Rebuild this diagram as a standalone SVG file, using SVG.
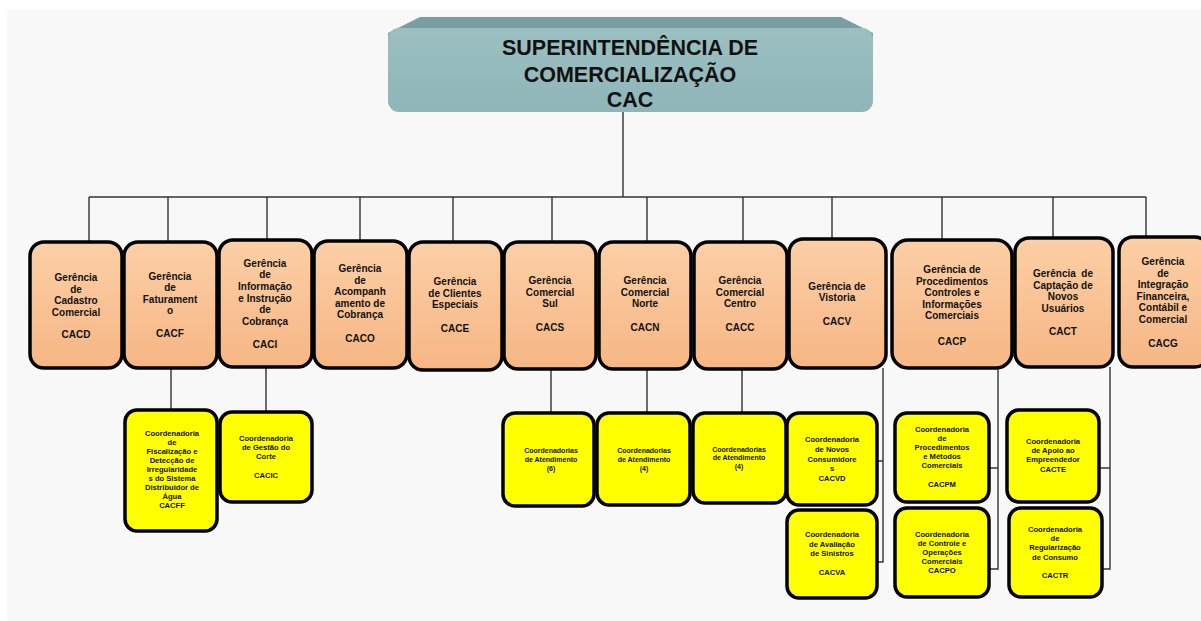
<svg xmlns="http://www.w3.org/2000/svg" width="1201" height="621" viewBox="0 0 1201 621">
<defs>
<linearGradient id="og" x1="0" y1="0" x2="0" y2="1"><stop offset="0" stop-color="#fccfa6"/><stop offset="1" stop-color="#f6b684"/></linearGradient>
<linearGradient id="tg" x1="0" y1="0" x2="0" y2="1"><stop offset="0" stop-color="#9cc0c2"/><stop offset="1" stop-color="#8fb5b8"/></linearGradient>
</defs>
<style>
.g{fill:url(#og);stroke:#000;stroke-width:3.5}
.y{fill:#ffff00;stroke:#000;stroke-width:3.5}
.c{fill:none;stroke:#333;stroke-width:1.4}
text{font-family:"Liberation Sans",Arial,sans-serif;font-weight:bold;text-anchor:middle;fill:#111}
.gt{font-size:10px}
.yt{font-size:7.6px}
.ht{font-size:21.5px}
</style>
<rect x="0" y="0" width="1201" height="621" fill="#ffffff"/>
<rect x="7" y="9" width="1194" height="612" fill="#f8f8f8"/>

<g id="connectors">
<path class="c" d="M623 112V197M89 197H1146M89 197V242M168 197V242M267 197V240M360 197V242M453 197V242M552 197V242M647 197V242M743 197V242M832 197V239M942 197V240M1053 197V238M1146 197V237"/>
<path class="c" d="M171 368V410M266 367V412M551 368V413M647 368V413M742 368V413"/>
<path class="c" d="M883 368V562H877M883 461H877"/>
<path class="c" d="M998 368V569H989M998 468H989"/>
<path class="c" d="M1110 367V569H1102M1110 468H1099"/>
</g>

<g id="CAC">
<path d="M420 17H841L873 33V60H388V33Z" fill="#7a9ea1"/>
<rect x="388" y="28" width="485" height="84" rx="11" fill="url(#tg)"/>
<text class="ht" x="630" y="55">SUPERINTENDÊNCIA DE</text>
<text class="ht" x="630" y="82">COMERCIALIZAÇÃO</text>
<text class="ht" x="630" y="107">CAC</text>
</g>

<g id="CACD"><rect class="g" x="30" y="242" width="92" height="126" rx="14"/>
<text class="gt" x="76" y="281">Gerência</text><text class="gt" x="76" y="293">de</text><text class="gt" x="76" y="304">Cadastro</text><text class="gt" x="76" y="316">Comercial</text><text class="gt" x="76" y="338">CACD</text></g>

<g id="CACF"><rect class="g" x="124" y="242" width="93" height="126" rx="14"/>
<text class="gt" x="170" y="280">Gerência</text><text class="gt" x="170" y="291">de</text><text class="gt" x="170" y="303">Faturament</text><text class="gt" x="170" y="314">o</text><text class="gt" x="170" y="337">CACF</text></g>

<g id="CACI"><rect class="g" x="219" y="240" width="93" height="127" rx="14"/>
<text class="gt" x="265" y="267">Gerência</text><text class="gt" x="265" y="278">de</text><text class="gt" x="265" y="290">Informação</text><text class="gt" x="265" y="302">e Instrução</text><text class="gt" x="265" y="313">de</text><text class="gt" x="265" y="325">Cobrança</text><text class="gt" x="265" y="348">CACI</text></g>

<g id="CACO"><rect class="g" x="314" y="241" width="93" height="127" rx="14"/>
<text class="gt" x="360" y="272">Gerência</text><text class="gt" x="360" y="284">de</text><text class="gt" x="360" y="295">Acompanh</text><text class="gt" x="360" y="307">amento de</text><text class="gt" x="360" y="318">Cobrança</text><text class="gt" x="360" y="342">CACO</text></g>

<g id="CACE"><rect class="g" x="409" y="242" width="93" height="128" rx="14"/>
<text class="gt" x="455" y="285">Gerência</text><text class="gt" x="455" y="297">de Clientes</text><text class="gt" x="455" y="308">Especiais</text><text class="gt" x="455" y="332">CACE</text></g>

<g id="CACS"><rect class="g" x="504" y="242" width="92" height="127" rx="14"/>
<text class="gt" x="550" y="284">Gerência</text><text class="gt" x="550" y="296">Comercial</text><text class="gt" x="550" y="307">Sul</text><text class="gt" x="550" y="331">CACS</text></g>

<g id="CACN"><rect class="g" x="599" y="242" width="92" height="127" rx="14"/>
<text class="gt" x="645" y="284">Gerência</text><text class="gt" x="645" y="296">Comercial</text><text class="gt" x="645" y="307">Norte</text><text class="gt" x="645" y="331">CACN</text></g>

<g id="CACC"><rect class="g" x="694" y="242" width="93" height="127" rx="14"/>
<text class="gt" x="740" y="284">Gerência</text><text class="gt" x="740" y="296">Comercial</text><text class="gt" x="740" y="307">Centro</text><text class="gt" x="740" y="331">CACC</text></g>

<g id="CACV"><rect class="g" x="789" y="239" width="97" height="129" rx="14"/>
<text class="gt" x="837" y="290">Gerência de</text><text class="gt" x="837" y="301">Vistoria</text><text class="gt" x="837" y="325">CACV</text></g>

<g id="CACP"><rect class="g" x="892" y="240" width="120" height="128" rx="16"/>
<text class="gt" x="952" y="273">Gerência de</text><text class="gt" x="952" y="285">Procedimentos</text><text class="gt" x="952" y="296">Controles e</text><text class="gt" x="952" y="308">Informações</text><text class="gt" x="952" y="319">Comerciais</text><text class="gt" x="952" y="345">CACP</text></g>

<g id="CACT"><rect class="g" x="1015" y="238" width="98" height="129" rx="14"/>
<text class="gt" x="1063" y="277" xml:space="preserve">Gerência  de</text><text class="gt" x="1063" y="289">Captação de</text><text class="gt" x="1063" y="300">Novos</text><text class="gt" x="1063" y="312">Usuários</text><text class="gt" x="1063" y="335">CACT</text></g>

<g id="CACG"><rect class="g" x="1119" y="237" width="90" height="130" rx="14"/>
<text class="gt" x="1163" y="265">Gerência</text><text class="gt" x="1163" y="277">de</text><text class="gt" x="1163" y="288">Integração</text><text class="gt" x="1163" y="300">Financeira,</text><text class="gt" x="1163" y="311">Contábil e</text><text class="gt" x="1163" y="323">Comercial</text><text class="gt" x="1163" y="347">CACG</text></g>

<g id="CACFF"><rect class="y" x="125" y="410" width="92" height="121" rx="12"/>
<text class="yt" x="172" y="436">Coordenadoria</text><text class="yt" x="172" y="445">de</text><text class="yt" x="172" y="454">Fiscalização e</text><text class="yt" x="172" y="463">Detecção de</text><text class="yt" x="172" y="472">Irregularidade</text><text class="yt" x="172" y="481">s do Sistema</text><text class="yt" x="172" y="490">Distribuidor de</text><text class="yt" x="172" y="499">Água</text><text class="yt" x="172" y="508">CACFF</text></g>

<g id="CACIC"><rect class="y" x="220" y="412" width="92" height="90" rx="12"/>
<text class="yt" x="266" y="441">Coordenadoria</text><text class="yt" x="266" y="450">de Gestão do</text><text class="yt" x="266" y="459">Corte</text><text class="yt" x="266" y="478">CACIC</text></g>

<g id="CACS-coord"><rect class="y" x="503" y="413" width="91" height="93" rx="12"/>
<text class="yt" x="551" y="453" style="font-size:7px">Coordenadorias</text><text class="yt" x="551" y="462" style="font-size:7px">de Atendimento</text><text class="yt" x="551" y="471" style="font-size:7px">(6)</text></g>

<g id="CACN-coord"><rect class="y" x="597" y="413" width="93" height="92" rx="12"/>
<text class="yt" x="644" y="453" style="font-size:7px">Coordenadorias</text><text class="yt" x="644" y="462" style="font-size:7px">de Atendimento</text><text class="yt" x="644" y="471" style="font-size:7px">(4)</text></g>

<g id="CACC-coord"><rect class="y" x="693" y="413" width="93" height="90" rx="12"/>
<text class="yt" x="739" y="452" style="font-size:7px">Coordenadorias</text><text class="yt" x="739" y="460" style="font-size:7px">de Atendimento</text><text class="yt" x="739" y="469" style="font-size:7px">(4)</text></g>

<g id="CACVD"><rect class="y" x="787" y="413" width="90" height="92" rx="12"/>
<text class="yt" x="832" y="442">Coordenadoria</text><text class="yt" x="832" y="452">de Novos</text><text class="yt" x="832" y="462">Consumidore</text><text class="yt" x="832" y="471">s</text><text class="yt" x="832" y="481">CACVD</text></g>

<g id="CACVA"><rect class="y" x="787" y="510" width="90" height="88" rx="12"/>
<text class="yt" x="832" y="537">Coordenadoria</text><text class="yt" x="832" y="547">de Avaliação</text><text class="yt" x="832" y="556">de Sinistros</text><text class="yt" x="832" y="575">CACVA</text></g>

<g id="CACPM"><rect class="y" x="895" y="413" width="94" height="89" rx="12"/>
<text class="yt" x="942" y="432">Coordenadoria</text><text class="yt" x="942" y="441">de</text><text class="yt" x="942" y="450">Procedimentos</text><text class="yt" x="942" y="459">e Métodos</text><text class="yt" x="942" y="468">Comerciais</text><text class="yt" x="942" y="487">CACPM</text></g>

<g id="CACPO"><rect class="y" x="895" y="508" width="94" height="89" rx="12"/>
<text class="yt" x="942" y="537">Coordenadoria</text><text class="yt" x="942" y="546">de Controle e</text><text class="yt" x="942" y="555">Operações</text><text class="yt" x="942" y="564">Comerciais</text><text class="yt" x="942" y="573">CACPO</text></g>

<g id="CACTE"><rect class="y" x="1007" y="410" width="92" height="92" rx="12"/>
<text class="yt" x="1053" y="444">Coordenadoria</text><text class="yt" x="1053" y="453">de Apoio ao</text><text class="yt" x="1053" y="462">Empreendedor</text><text class="yt" x="1053" y="472">CACTE</text></g>

<g id="CACTR"><rect class="y" x="1009" y="508" width="93" height="89" rx="12"/>
<text class="yt" x="1055" y="532">Coordenadoria</text><text class="yt" x="1055" y="541">de</text><text class="yt" x="1055" y="550">Regularização</text><text class="yt" x="1055" y="560">de Consumo</text><text class="yt" x="1055" y="578">CACTR</text></g>
</svg>
